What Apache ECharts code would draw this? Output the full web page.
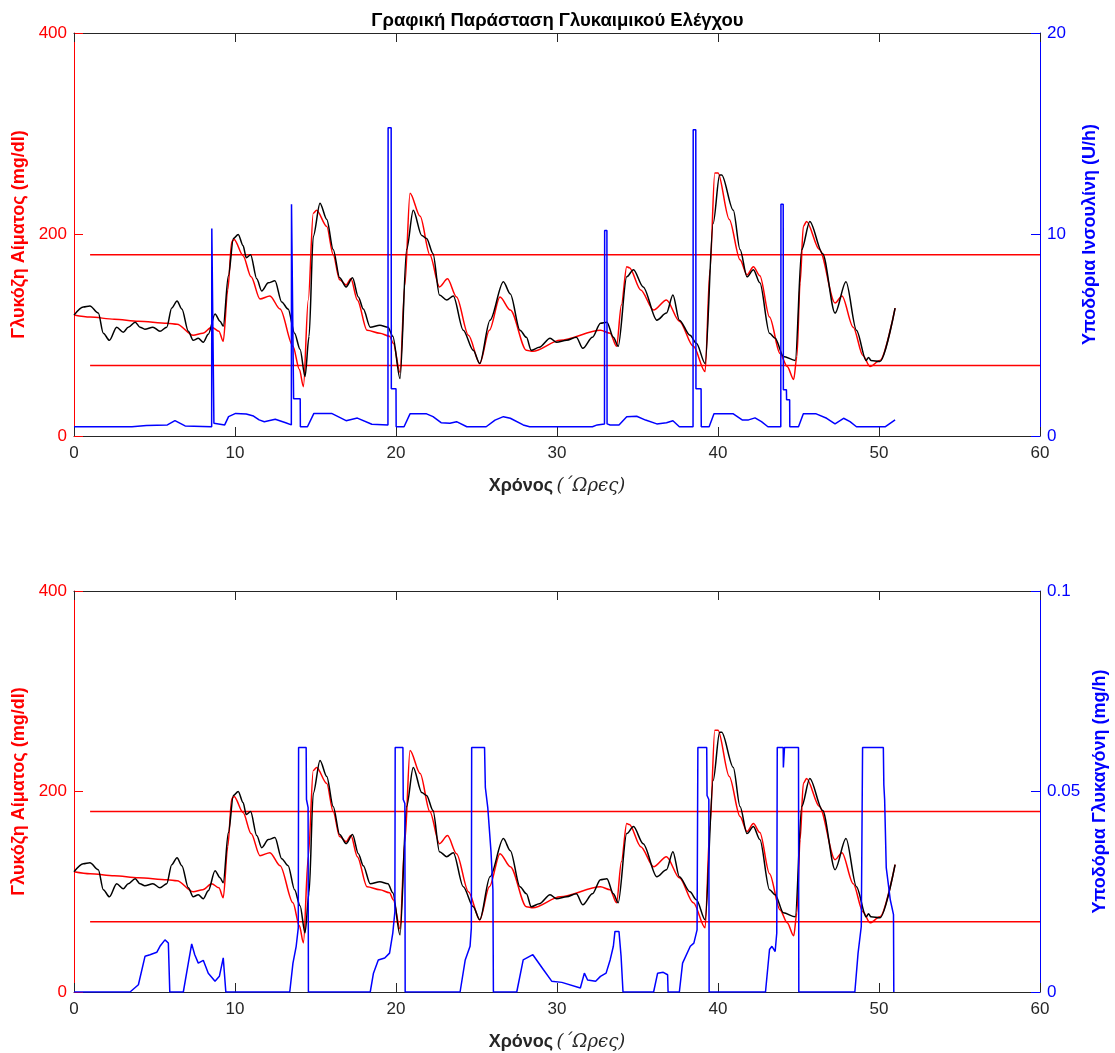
<!DOCTYPE html>
<html><head><meta charset="utf-8">
<script src="https://cdn.jsdelivr.net/npm/echarts@6.0.0/dist/echarts.min.js"></script>
<style>html,body{margin:0;padding:0;background:#fff}#c{width:1115px;height:1053px}</style>
</head><body><div id="c"></div><script>
// ---- data (hours, mg/dl, U/h, mg/h) ----
const chartTitle = 'Γραφική Παράσταση Γλυκαιμικού Ελέγχου';
const xTicks = [0, 10, 20, 30, 40, 50, 60];
const glucoseTicks = [0, 200, 400];
const insulinTicks = [0, 10, 20];
const glucagonTicks = [0, 0.05, 0.1];
const thresholdLevels = [180, 70];
const thresholdSpan = [1, 60];

const modelT = [0,1.0,2.5,4.0,5.8,6.4,7.4,8.0,8.55,9.0,9.27,9.55,9.8,9.95,10.5,11.0,11.55,12.17,12.8,13.6,14.0,14.25,14.55,14.86,15.07,15.7,16.1,16.5,16.9,17.2,17.6,18.2,19.0,19.6,19.83,20.25,20.55,20.87,21.5,22.1,22.7,23.2,23.76,24.5,25.2,25.8,26.46,27.1,28.1,28.5,30.2,32.7,33.3,33.7,34.0,34.33,34.5,35.2,36.0,36.8,37.6,38.47,39.2,39.5,39.8,40.0,40.7,41.37,41.8,42.2,42.6,43.2,43.85,44.3,44.7,44.9,45.1,45.3,45.5,46.3,47.27,47.7,48.4,49.0,49.44,50.06,51.0];
const modelG = [120,118,116,114,112,111,100,102,108,104,94,145,193,195,179,158,136,139,126,89,66,49,135,221,224,208,180,155,150,156,135,105,102,99,92,63,150,241,218,180,148,156,138,100,72,105,138,125,85,84,95,105,102,89,130,168,167,145,125,135,114,89,64,165,261,261,215,175,160,168,159,118,82,69,56,79,152,208,213,185,132,139,108,80,69,75,127];

const sensorT = [0,0.58,0.99,1.51,1.82,2.2,2.65,3.06,3.37,3.8,4.1,4.4,4.9,5.34,5.76,6.07,6.4,6.7,7.1,7.4,7.72,8.03,8.34,8.76,9.07,9.27,9.59,9.9,10.2,10.5,10.7,10.97,11.35,11.66,12.07,12.48,12.9,13.3,13.7,14.04,14.35,14.6,14.86,15.28,15.7,16.1,16.5,16.9,17.3,17.66,17.97,18.4,19.0,19.5,19.8,20.25,20.66,21.07,21.6,21.9,22.3,22.7,23.15,23.56,24.18,24.8,25.2,25.84,26.67,27.1,27.7,28.1,28.4,28.9,29.57,29.97,30.6,31.2,31.6,32.2,32.7,33.1,33.5,33.8,34.33,34.75,35.35,36.2,36.8,37.2,37.6,38.26,38.66,39.2,39.7,40.1,40.23,40.95,41.37,41.8,42.2,42.6,43.2,43.55,44.06,44.8,45.2,45.7,46.5,47.27,47.95,48.6,49.2,49.35,49.5,50.06,51.0];
const sensorG = [120,128,129,122,102,95,108,103,108,113,108,106,108,104,108,127,134,126,104,95,97,93,101,121,114,109,159,196,200,189,177,180,156,144,152,154,133,126,102,86,59,99,198,231,215,185,157,148,157,138,126,108,110,108,99,57,185,224,199,196,181,140,135,139,105,85,72,115,153,141,105,98,85,88,97,93,95,98,87,98,112,113,98,89,158,165,148,115,122,140,115,100,92,72,211,259,259,224,185,158,165,152,102,97,79,75,185,213,181,122,153,105,75,78,75,74,127];

const insulinT = [0,3.6,4.5,5.8,6.27,6.9,8.55,8.56,8.68,8.69,9.36,9.6,10.04,10.7,11.15,11.5,11.82,12.5,13.15,13.5,13.51,13.63,13.64,14.05,14.06,14.5,14.9,16.0,16.9,17.6,18.5,19.5,19.51,19.7,19.71,20.0,20.01,20.5,20.87,21.9,22.3,22.8,23.35,23.76,24.4,25.6,26.15,26.67,27.1,27.9,28.3,32.2,32.5,32.95,32.96,33.1,33.11,33.3,33.85,34.33,34.95,35.5,36.2,36.8,37.2,37.6,38.45,38.46,38.62,38.63,38.95,38.96,39.45,39.75,40.95,41.5,41.9,42.3,42.7,43.1,43.9,43.91,44.05,44.06,44.25,44.26,44.45,44.46,45.0,45.3,46.1,46.75,47.27,47.8,48.2,48.6,50.4,51.0];
const insulinV = [0.46,0.46,0.52,0.55,0.76,0.5,0.46,10.3,10.3,0.63,0.55,0.96,1.12,1.09,0.99,0.8,0.71,0.83,0.66,0.55,11.5,11.5,1.85,1.85,0.46,0.46,1.12,1.12,0.76,0.89,0.58,0.55,15.3,15.3,2.35,2.35,0.46,0.46,1.1,1.1,0.96,0.66,0.63,0.71,0.46,0.46,0.79,0.96,0.88,0.55,0.46,0.46,0.55,0.6,10.2,10.2,0.6,0.55,0.55,0.96,0.98,0.79,0.6,0.66,0.76,0.46,0.46,15.2,15.2,2.35,2.35,0.46,0.46,1.1,1.1,0.8,0.8,0.9,0.71,0.46,0.46,11.5,11.5,2.3,2.3,1.8,1.8,0.46,0.46,1.1,1.1,0.88,0.6,0.88,0.71,0.46,0.46,0.8];

const glucagonT = [0,3.48,4.0,4.41,4.72,5.14,5.34,5.65,5.86,5.95,6.79,7.1,7.31,7.5,7.72,8.03,8.34,8.76,9.03,9.27,9.43,13.4,13.6,13.8,13.93,13.95,14.42,14.44,14.54,14.56,18.4,18.6,18.9,19.3,19.6,19.8,19.93,19.95,20.43,20.45,20.55,20.57,23.98,24.3,24.6,24.68,24.7,25.5,25.55,25.7,25.9,26.02,26.05,27.5,27.9,28.5,29.15,29.67,30.3,31.45,31.7,31.9,32.4,32.7,33.05,33.3,33.5,33.6,33.85,33.98,34.1,36.0,36.25,36.6,36.87,36.9,37.6,37.8,38.28,38.5,38.7,38.75,39.3,39.32,39.43,39.45,42.95,43.2,43.35,43.55,43.65,43.68,44.05,44.06,44.12,44.13,45.0,45.02,48.5,48.7,48.9,48.98,50.27,50.3,50.35,50.45,50.7,50.9,50.92];
const glucagonV = [0,0,0.0018,0.0089,0.0093,0.0099,0.0114,0.013,0.0122,0,0,0.0072,0.012,0.0093,0.0072,0.0079,0.0047,0.0027,0.0039,0.0085,0,0,0.0072,0.0114,0.016,0.061,0.061,0.048,0.046,0,0,0.0047,0.008,0.0085,0.0097,0.0147,0.02,0.061,0.061,0.048,0.047,0,0,0.008,0.0114,0.016,0.061,0.061,0.051,0.046,0.035,0.0255,0,0,0.008,0.0093,0.0056,0.0027,0.0024,0.001,0.0047,0.003,0.0027,0.0039,0.0047,0.008,0.0114,0.0151,0.0151,0.0089,0,0,0.0047,0.0049,0.0043,0,0,0.0072,0.0114,0.0122,0.0155,0.061,0.061,0.049,0.048,0,0,0.0106,0.0114,0.0101,0.0147,0.061,0.061,0.056,0.056,0.061,0.061,0,0,0.0097,0.0164,0.061,0.061,0.0517,0.048,0.031,0.023,0.0193,0];

// ---- build ----
const zip = (t, v) => t.map((x, i) => [x, v[i]]);
const FONT = "'Liberation Sans', Arial, Helvetica, sans-serif";
const AX = '#262626', RED = '#ff0000', BLUE = '#0000ff';

function xAxes(gi) {
  const base = {
    gridIndex: gi, type: 'value', min: xTicks[0], max: xTicks[xTicks.length - 1],
    interval: xTicks[1] - xTicks[0], splitLine: { show: false },
    axisLine: { show: true, onZero: false, lineStyle: { color: AX, width: 1 } },
    axisTick: { show: true, inside: true, length: 9, lineStyle: { color: AX, width: 1 } }
  };
  return [
    Object.assign({}, base, {
      position: 'bottom',
      axisLabel: { color: AX, fontSize: 17, fontFamily: FONT, margin: 9 },
      name: '{b|Χρόνος} {n|(´Ωρϵς)}', nameLocation: 'middle', nameGap: 41,
      nameTextStyle: { rich: {
        b: { fontSize: 18, fontWeight: 'bold', fontFamily: FONT, color: AX },
        n: { fontSize: 18, fontFamily: "'DejaVu Serif', 'Liberation Serif', serif", fontStyle: 'italic', color: AX }
      } }
    }),
    Object.assign({}, base, { position: 'top', axisLabel: { show: false } })
  ];
}
function yAxis(gi, ticks, pos, color, name) {
  return {
    gridIndex: gi, type: 'value', position: pos, min: ticks[0], max: ticks[ticks.length - 1],
    interval: ticks[1] - ticks[0], splitLine: { show: false },
    axisLine: { show: true, onZero: false, lineStyle: { color: color, width: 1 } },
    axisTick: { show: true, inside: true, length: 9, lineStyle: { color: color, width: 1 } },
    axisLabel: { color: color, fontSize: 17, fontFamily: FONT, margin: 7 },
    name: name, nameLocation: 'middle', nameGap: pos === 'left' ? 46 : 41, nameRotate: 90,
    nameTextStyle: { color: color, fontSize: 18, fontWeight: 'bold', fontFamily: FONT }
  };
}
function lineSeries(xi, yi, data, color, smooth, z) {
  return { type: 'line', xAxisIndex: xi, yAxisIndex: yi, data: data, showSymbol: false, symbol: 'none',
    smooth: smooth, smoothMonotone: smooth ? 'x' : undefined, z: z,
    lineStyle: { color: color, width: 1.5 }, emphasis: { disabled: true }, silent: true };
}

const series = [];
[0, 1].forEach(g => {
  const xi = g * 2, yl = g * 2, yr = g * 2 + 1;
  thresholdLevels.forEach(lv => series.push(lineSeries(xi, yl, [[thresholdSpan[0], lv], [thresholdSpan[1], lv]], RED, false, 2)));
  series.push(lineSeries(xi, yl, zip(modelT, modelG), RED, 0.3, 3));
  series.push(lineSeries(xi, yl, zip(sensorT, sensorG), '#000000', 0.3, 4));
  series.push(lineSeries(xi, yr, g === 0 ? zip(insulinT, insulinV) : zip(glucagonT, glucagonV), BLUE, false, 5));
});

const chart = echarts.init(document.getElementById('c'), null, { renderer: 'canvas' });
chart.setOption({
  animation: false,
  backgroundColor: '#ffffff',
  title: { text: chartTitle, left: 'center', top: 6,
    textStyle: { fontSize: 18.5, fontWeight: 'bold', fontFamily: FONT, color: '#000' } },
  grid: [
    { left: 74, right: 75, top: 33, height: 403, containLabel: false, outerBoundsMode: 'none' },
    { left: 74, right: 75, top: 591, height: 401, containLabel: false, outerBoundsMode: 'none' }
  ],
  xAxis: [].concat(xAxes(0), xAxes(1)),
  yAxis: [
    yAxis(0, glucoseTicks, 'left', RED, 'Γλυκόζη Αίματος (mg/dl)'),
    yAxis(0, insulinTicks, 'right', BLUE, 'Υποδόρια Ινσουλίνη (U/h)'),
    yAxis(1, glucoseTicks, 'left', RED, 'Γλυκόζη Αίματος (mg/dl)'),
    yAxis(1, glucagonTicks, 'right', BLUE, 'Υποδόρια Γλυκαγόνη (mg/h)')
  ],
  series: series
});
</script></body></html>
